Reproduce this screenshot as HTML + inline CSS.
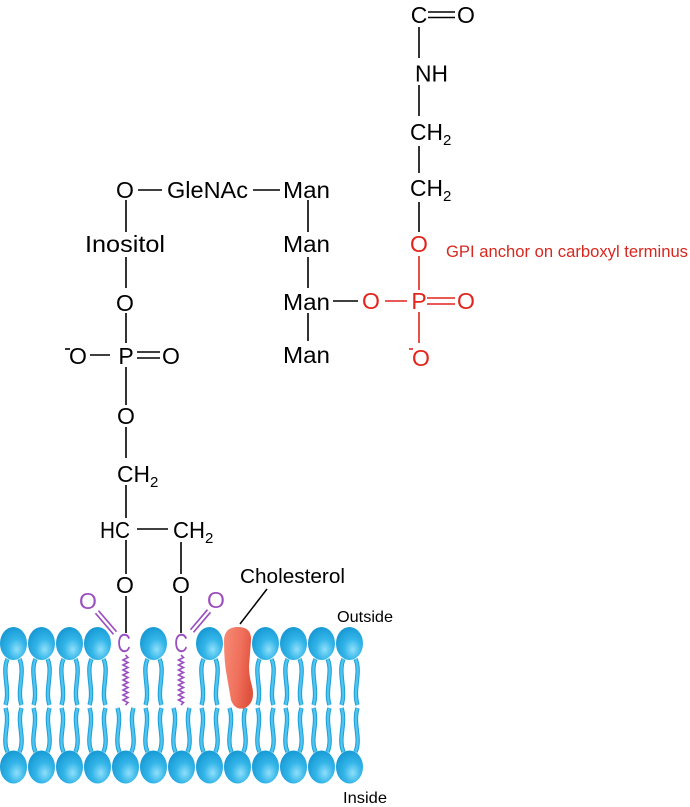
<!DOCTYPE html>
<html>
<head>
<meta charset="utf-8">
<style>
  html,body{margin:0;padding:0;background:#fff;}
  svg{display:block;}
  text{font-family:"Liberation Sans",Arial,sans-serif;}
</style>
</head>
<body>
<svg width="690" height="807" viewBox="0 0 690 807" xmlns="http://www.w3.org/2000/svg">
<defs>
  <radialGradient id="hg" cx="0.62" cy="0.68" r="0.7">
    <stop offset="0" stop-color="#8fdffa"/>
    <stop offset="0.45" stop-color="#35b6e9"/>
    <stop offset="1" stop-color="#1699d4"/>
  </radialGradient>
  <linearGradient id="cg" x1="0" y1="0" x2="1" y2="0.3">
    <stop offset="0" stop-color="#f68b76"/>
    <stop offset="0.6" stop-color="#f0705c"/>
    <stop offset="1" stop-color="#e0543f"/>
  </linearGradient>
  <g id="ttail">
    <path d="M-6,659 C-12,672 -3,690 -8,705 M6,659 C12,672 3,690 8,705" fill="none" stroke="#1d9ed7" stroke-width="4.4"/>
    <path d="M-6,659 C-12,672 -3,690 -8,705 M6,659 C12,672 3,690 8,705" fill="none" stroke="#4fc4ee" stroke-width="2.4"/>
  </g>
  <g id="btail">
    <path d="M-8,708 C-3,724 -12,738 -6,752 M8,708 C3,724 12,738 6,752" fill="none" stroke="#1d9ed7" stroke-width="4.4"/>
    <path d="M-8,708 C-3,724 -12,738 -6,752 M8,708 C3,724 12,738 6,752" fill="none" stroke="#4fc4ee" stroke-width="2.4"/>
  </g>
  <ellipse id="thead" cx="0" cy="643.5" rx="13.5" ry="16.5" fill="url(#hg)"/>
  <ellipse id="bhead" cx="0" cy="767" rx="13.5" ry="16.5" fill="url(#hg)"/>
</defs>

<!-- membrane tails -->
<g>
  <use href="#ttail" x="13.5"/><use href="#ttail" x="41.5"/><use href="#ttail" x="69.5"/><use href="#ttail" x="97.5"/>
  <use href="#ttail" x="153.5"/><use href="#ttail" x="209.5"/>
  <use href="#ttail" x="265.5"/><use href="#ttail" x="293.5"/><use href="#ttail" x="321.5"/><use href="#ttail" x="349.5"/>

  <use href="#btail" x="13.5"/><use href="#btail" x="41.5"/><use href="#btail" x="69.5"/><use href="#btail" x="97.5"/>
  <use href="#btail" x="125.5"/><use href="#btail" x="153.5"/><use href="#btail" x="181.5"/><use href="#btail" x="209.5"/>
  <use href="#btail" x="237.5"/><use href="#btail" x="265.5"/><use href="#btail" x="293.5"/><use href="#btail" x="321.5"/><use href="#btail" x="349.5"/>
</g>
<!-- heads -->
<g>
  <use href="#thead" x="13.5"/><use href="#thead" x="41.5"/><use href="#thead" x="69.5"/><use href="#thead" x="97.5"/>
  <use href="#thead" x="153.5"/><use href="#thead" x="209.5"/>
  <use href="#thead" x="265.5"/><use href="#thead" x="293.5"/><use href="#thead" x="321.5"/><use href="#thead" x="349.5"/>

  <use href="#bhead" x="13.5"/><use href="#bhead" x="41.5"/><use href="#bhead" x="69.5"/><use href="#bhead" x="97.5"/>
  <use href="#bhead" x="125.5"/><use href="#bhead" x="153.5"/><use href="#bhead" x="181.5"/><use href="#bhead" x="209.5"/>
  <use href="#bhead" x="237.5"/><use href="#bhead" x="265.5"/><use href="#bhead" x="293.5"/><use href="#bhead" x="321.5"/><use href="#bhead" x="349.5"/>
</g>

<!-- cholesterol -->
<path d="M224,641 Q224,627 238,627 Q252,627 251,641 L249,666 Q249,676 252,686 Q256,702 245,708 Q235,711 231,700 L227,677 Q224,662 224,641 Z" fill="url(#cg)"/>
<line x1="267" y1="589" x2="240" y2="624" stroke="#000" stroke-width="1.5"/>
<text x="240" y="583" font-size="20.5" textLength="105" lengthAdjust="spacingAndGlyphs">Cholesterol</text>
<text x="337" y="622" font-size="16" textLength="56" lengthAdjust="spacingAndGlyphs">Outside</text>
<text x="343" y="803" font-size="16" textLength="44" lengthAdjust="spacingAndGlyphs">Inside</text>

<!-- purple acyl groups -->
<g stroke="#9a4fc0" stroke-width="1.6" fill="none">
  <line x1="98.5" y1="610.7" x2="116.5" y2="631.7"/>
  <line x1="95.5" y1="613.3" x2="113.5" y2="634.3"/>
  <line x1="193.5" y1="632.3" x2="210.5" y2="612.3"/>
  <line x1="190.5" y1="629.7" x2="207.5" y2="609.7"/>
  <path d="M125.5,655 L128,657.5 L123,660 L128,662.5 L123,665 L128,667.5 L123,670 L128,672.5 L123,675 L128,677.5 L123,680 L128,682.5 L123,685 L128,687.5 L123,690 L128,692.5 L123,695 L128,697.5 L123,700 L128,702.5 L125.5,705"/>
  <path d="M181,655 L183.5,657.5 L178.5,660 L183.5,662.5 L178.5,665 L183.5,667.5 L178.5,670 L183.5,672.5 L178.5,675 L183.5,677.5 L178.5,680 L183.5,682.5 L178.5,685 L183.5,687.5 L178.5,690 L183.5,692.5 L178.5,695 L183.5,697.5 L178.5,700 L183.5,702.5 L181,705"/>
</g>
<g fill="#9a4fc0" font-size="23" text-anchor="middle">
  <text x="88" y="609">O</text>
  <text x="216" y="608">O</text>
  <text x="0" y="0" font-size="26" transform="translate(124,652) scale(0.72,1)">C</text>
  <text x="0" y="0" font-size="26" transform="translate(181,652) scale(0.72,1)">C</text>
</g>

<!-- black structure lines -->
<g stroke="#000" stroke-width="1.6" fill="none">
  <!-- top chain -->
  <line x1="428" y1="12" x2="455" y2="12"/>
  <line x1="428" y1="17.5" x2="455" y2="17.5"/>
  <line x1="419" y1="27" x2="419" y2="58"/>
  <line x1="419" y1="85" x2="419" y2="116"/>
  <line x1="419" y1="146" x2="419" y2="173"/>
  <line x1="419" y1="202" x2="419" y2="232"/>
  <!-- O—GleNAc—Man -->
  <line x1="138" y1="190" x2="162" y2="190"/>
  <line x1="253" y1="190" x2="280" y2="190"/>
  <!-- left column -->
  <line x1="126" y1="200" x2="126" y2="232"/>
  <line x1="126" y1="257" x2="126" y2="288"/>
  <line x1="126" y1="313" x2="126" y2="343"/>
  <line x1="65" y1="349" x2="70" y2="349"/>
  <line x1="90" y1="355" x2="110" y2="355"/>
  <line x1="137" y1="352" x2="160" y2="352"/>
  <line x1="137" y1="358" x2="160" y2="358"/>
  <line x1="126" y1="367" x2="126" y2="405"/>
  <line x1="126" y1="427" x2="126" y2="458"/>
  <line x1="126" y1="485" x2="126" y2="518"/>
  <line x1="137" y1="529" x2="168" y2="529"/>
  <line x1="126" y1="540" x2="126" y2="574"/>
  <line x1="181" y1="542" x2="181" y2="574"/>
  <line x1="126" y1="596" x2="126" y2="633"/>
  <line x1="181" y1="596" x2="181" y2="633"/>
  <!-- Man column -->
  <line x1="308" y1="200" x2="308" y2="232"/>
  <line x1="308" y1="257" x2="308" y2="288"/>
  <line x1="333" y1="301" x2="358" y2="301"/>
  <line x1="308" y1="313" x2="308" y2="341"/>
</g>

<!-- black labels -->
<g fill="#000" font-size="23">
  <text x="419" y="23" text-anchor="middle">C</text>
  <text x="466" y="23" text-anchor="middle">O</text>
  <text x="415" y="81.5" textLength="33" lengthAdjust="spacingAndGlyphs">NH</text>
  <text x="410" y="140"><tspan textLength="33" lengthAdjust="spacingAndGlyphs">CH</tspan><tspan font-size="15" dy="5">2</tspan></text>
  <text x="410" y="196"><tspan textLength="33" lengthAdjust="spacingAndGlyphs">CH</tspan><tspan font-size="15" dy="5">2</tspan></text>

  <text x="125" y="198" text-anchor="middle">O</text>
  <text x="167" y="198" textLength="81" lengthAdjust="spacingAndGlyphs">GleNAc</text>
  <text x="283" y="198" textLength="47" lengthAdjust="spacingAndGlyphs">Man</text>
  <text x="85" y="252" textLength="80" lengthAdjust="spacingAndGlyphs">Inositol</text>
  <text x="283" y="252" textLength="47" lengthAdjust="spacingAndGlyphs">Man</text>
  <text x="125" y="311" text-anchor="middle">O</text>
  <text x="283" y="310" textLength="47" lengthAdjust="spacingAndGlyphs">Man</text>
  <text x="283" y="363" textLength="47" lengthAdjust="spacingAndGlyphs">Man</text>

  <text x="78" y="364" text-anchor="middle">O</text>
  <text x="126" y="364" text-anchor="middle">P</text>
  <text x="171" y="364" text-anchor="middle">O</text>
  <text x="126" y="424" text-anchor="middle">O</text>
  <text x="117" y="482"><tspan textLength="33" lengthAdjust="spacingAndGlyphs">CH</tspan><tspan font-size="15" dy="5">2</tspan></text>
  <text x="100" y="538" textLength="30" lengthAdjust="spacingAndGlyphs">HC</text>
  <text x="173" y="538"><tspan textLength="32" lengthAdjust="spacingAndGlyphs">CH</tspan><tspan font-size="15" dy="5">2</tspan></text>
  <text x="125" y="593" text-anchor="middle">O</text>
  <text x="181" y="593" text-anchor="middle">O</text>
</g>

<!-- red phosphate -->
<g stroke="#e3241b" stroke-width="1.6" fill="none">
  <line x1="419" y1="256" x2="419" y2="290"/>
  <line x1="385" y1="301" x2="407" y2="301"/>
  <line x1="427" y1="298" x2="455" y2="298"/>
  <line x1="427" y1="304" x2="455" y2="304"/>
  <line x1="419" y1="312" x2="419" y2="343"/>
  <line x1="409" y1="349" x2="413" y2="349"/>
</g>
<g fill="#e3241b" font-size="23" text-anchor="middle">
  <text x="419" y="252">O</text>
  <text x="371" y="309">O</text>
  <text x="419" y="309">P</text>
  <text x="466" y="309">O</text>
  <text x="421" y="366">O</text>
</g>
<text x="446" y="257" font-size="16.5" fill="#d6281f" textLength="242" lengthAdjust="spacingAndGlyphs">GPI anchor on carboxyl terminus</text>
</svg>
</body>
</html>
